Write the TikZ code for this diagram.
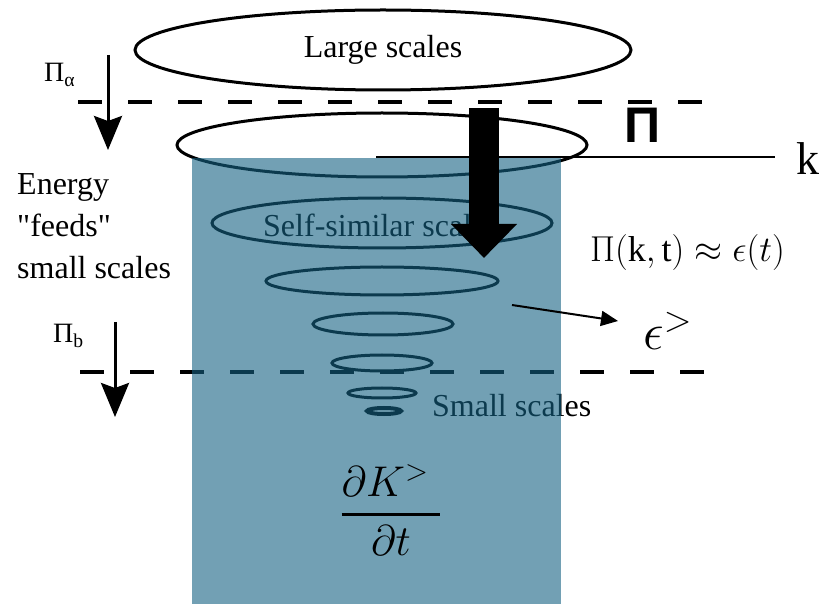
\RequirePackage{fix-cm}
\documentclass[tikz,border=0pt]{standalone}
\usepackage{amsmath}
\usepackage{fontspec}
\setmainfont{Liberation Serif}[Ligatures=TeXOff]
\newfontfamily\pisans{Liberation Sans}
\usetikzlibrary{arrows.meta}

\definecolor{cascade}{RGB}{20,97,130}

\tikzset{
  scalelabel/.style={inner sep=0pt, font=\rmfamily\fontsize{32}{42}\selectfont},
  cut/.style={line width=4pt, dash pattern=on 24pt off 26pt},
  eddy/.style={line width=3pt},
  flux/.style={line width=3pt, -{Stealth[width=28pt,length=34pt,inset=5pt]}},
}

\begin{document}
\begin{tikzpicture}[x=1pt,y=-1pt]
  \useasboundingbox (0,0) rectangle (823,604);

  % large scales and the first cut
  \draw[eddy] (383,50) ellipse [x radius=248, y radius=40];
  \node[scalelabel, anchor=base] (large) at (383,58) {Large scales};
  \coordinate (upper west) at (78,102);
  \coordinate (upper east) at (710,102);
  \draw[cut] (upper west) -- (upper east);

  \node[inner sep=0pt, anchor=base west, font=\rmfamily\fontsize{28}{32}\selectfont] (pia) at (44,82) {Π\textsubscript{α}};
  \coordinate (pia top) at (108,55);
  \coordinate (pia tip) at (108,150);
  \draw[flux] (pia top) -- (pia tip);

  \node[scalelabel, anchor=north west, align=left] (energy) at (17,173)
    {Energy\\"feeds"\\small scales};

  \node[inner sep=0pt, anchor=base west, font=\rmfamily\fontsize{28}{32}\selectfont] (pib) at (53,343) {Π\textsubscript{b}};
  \coordinate (pib top) at (115,322);
  \coordinate (pib tip) at (115,417);
  \draw[flux] (pib top) -- (pib tip);

  % eddies down the cascade
  \draw[eddy] (382,145) ellipse [x radius=205, y radius=32];
  \draw[eddy] (382,223) ellipse [x radius=170, y radius=25];
  \node[scalelabel, anchor=base west] (selfsim) at (263,237) {Self-similar scales};
  \draw[eddy] (382,281) ellipse [x radius=116, y radius=14];
  \draw[eddy] (383,324) ellipse [x radius=70, y radius=11];
  \draw[eddy] (382,363) ellipse [x radius=50, y radius=8];
  \draw[eddy] (382,393) ellipse [x radius=34, y radius=5];
  \draw[line width=4pt] (384,411) ellipse [x radius=17, y radius=3];
  \node[scalelabel, anchor=base west] (small) at (432,417) {Small scales};

  \coordinate (lower west) at (80,372);
  \coordinate (lower east) at (710,372);
  \draw[cut] (lower west) -- (lower east);

  \fill[cascade, fill opacity=0.6] (192,158) rectangle (561,604);

  \node[inner sep=0pt, font=\fontsize{43}{50}\selectfont] (dKdt) at (391,510)
    {$\genfrac{}{}{2.6pt}{0}{\partial K^{>}\;}{\partial t}$};

  % flux through k
  \coordinate (k west) at (376,157);
  \coordinate (k east) at (775,157);
  \draw[line width=2pt] (k west) -- (k east);
  \node[inner sep=0pt, anchor=base west, font=\rmfamily\fontsize{46}{50}\selectfont] (k) at (796,175) {k};
  \node[inner sep=0pt, anchor=base, font=\pisans\bfseries\fontsize{50}{56}\selectfont] (Pi) at (643,143) {Π};

  \coordinate (flux top) at (484,108);
  \coordinate (flux tip) at (484,258);
  \draw[line width=30pt, -{Triangle[width=64pt,length=34pt]}] (flux top) -- (flux tip);

  \node[inner sep=0pt, anchor=base west, font=\fontsize{36}{42}\selectfont] (rate) at (590,262)
    {$\Pi(\mathrm{k},\mathrm{t})\approx\epsilon(t)$};

  \coordinate (drain start) at (512,305);
  \coordinate (drain tip) at (618,321);
  \draw[line width=2pt, -{Triangle[width=15pt,length=17pt]}] (drain start) -- (drain tip);
  \node[inner sep=0pt, anchor=base west, font=\fontsize{52}{58}\selectfont] (eps) at (643,350) {$\epsilon^{>}$};
\end{tikzpicture}
\end{document}
